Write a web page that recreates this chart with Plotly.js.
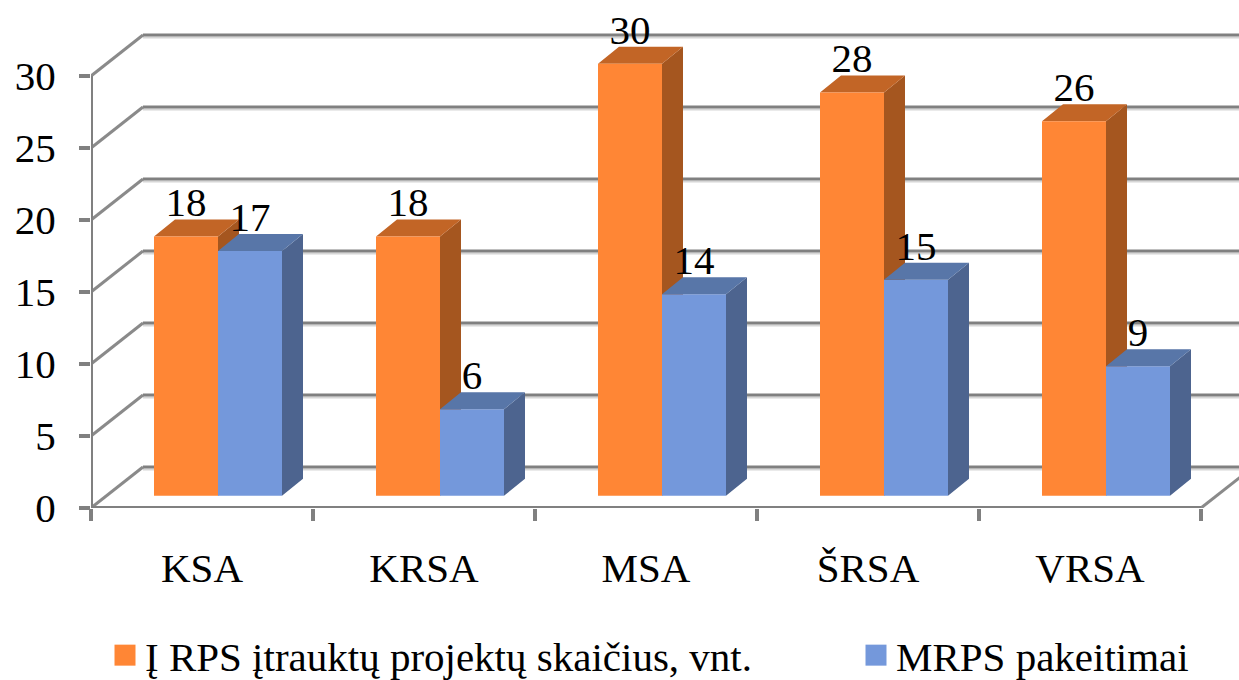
<!DOCTYPE html>
<html><head><meta charset="utf-8">
<script src="https://cdn.plot.ly/plotly-3.0.1.min.js"></script>
<style>html,body{margin:0;padding:0;background:#fff;overflow:hidden}</style>
</head><body><div id="chart" style="width:1239px;height:680px"></div>
<script>
const categories = ["KSA","KRSA","MSA","ŠRSA","VRSA"];
const projects = [18,18,30,28,26];
const changes = [17,6,14,15,9];
const seriesNames = ["Į RPS įtrauktų projektų skaičius, vnt.","MRPS pakeitimai"];
const yTicks = [0,5,10,15,20,25,30];

const W=1239,H=680,L=91,B=508,UX=222,UY=14.4;
const FONT='"Liberation Serif","Times New Roman",serif';
const GRID='#808080';
const wallDX=52/UX, wallDY=41/UY;
const barBase=0.85;
const barW=64/UX, barStart=63/UX;
const faceDX=21/UX, faceDY=17/UY;
const labelDrop=7/UY;
const xMax=(W-L)/UX, yMax=B/UY;

function poly(pts){const x=[],y=[];pts.forEach(p=>{p.forEach(q=>{x.push(q[0]);y.push(q[1]);});x.push(p[0][0],null);y.push(p[0][1],null);});return {x,y};}
function faces(vals,slot){
  const side=[],top=[];
  vals.forEach((v,i)=>{
    const x0=i+barStart+slot*barW,x1=x0+barW,b=barBase,t=barBase+v;
    side.push([[x1,b],[x1+faceDX,b+faceDY],[x1+faceDX,t+faceDY],[x1,t]]);
    top.push([[x0,t],[x0+faceDX,t+faceDY],[x1+faceDX,t+faceDY],[x1,t]]);
  });
  return {side:poly(side),top:poly(top)};
}
function fillTrace(p,color,ya){return {x:p.x,y:p.y,yaxis:ya,type:'scatter',mode:'lines',fill:'toself',fillcolor:color,line:{width:0,color:color},showlegend:false,hoverinfo:'skip'};}
function lineTrace(x,y,color,w,clip){return {x,y,type:'scatter',mode:'lines',line:{color,width:w},showlegend:false,hoverinfo:'skip',cliponaxis:clip};}

const gx=[],gy=[],gs=[],dx=[],dy=[];
yTicks.forEach(v=>{
  gx.push(wallDX,xMax,null);gy.push(v+wallDY,v+wallDY,null);
  gs.push(v+wallDY-0.17,v+wallDY-0.17,null);
  dx.push(0,wallDX,null);dy.push(v,v+wallDY,null);
});
dx.push(categories.length,categories.length+wallDX);dy.push(0,wallDY);

const fo=faces(projects,0), fb=faces(changes,1);
const labelFont={family:FONT,size:41,color:'#000'};
const traces=[
  lineTrace(gx,gs,'#d6d6d6',2,true),
  lineTrace(gx,gy,GRID,2.8,true),
  lineTrace(dx,dy,'#8a8a8a',3,true),
  lineTrace([0,0],[0,30],GRID,4,false),
  lineTrace([0,categories.length],[0,0],GRID,4,false),
  fillTrace(fo.side,'#A5561F','y'),
  fillTrace(fo.top,'#C26526','y'),
  {type:'bar',name:seriesNames[0],legend:'legend',x:categories.map((c,i)=>i+barStart+barW/2),y:projects,base:barBase,width:barW,yaxis:'y2',marker:{color:'#FF8635',line:{width:0}},hoverinfo:'skip'},
  {type:'bar',name:seriesNames[1],legend:'legend2',x:categories.map((c,i)=>i+barStart+barW*1.5),y:changes,base:barBase,width:barW,yaxis:'y2',marker:{color:'#7498DB',line:{width:0}},hoverinfo:'skip'},
  fillTrace(fb.side,'#4D648F','y3'),
  fillTrace(fb.top,'#5876A8','y3'),
  {type:'scatter',mode:'text',yaxis:'y3',x:categories.map((c,i)=>i+barStart+barW/2),y:projects.map(v=>v+barBase+faceDY-labelDrop),text:projects.map(String),textposition:'top center',textfont:labelFont,showlegend:false,hoverinfo:'skip',cliponaxis:false},
  {type:'scatter',mode:'text',yaxis:'y3',x:categories.map((c,i)=>i+barStart+barW*1.5),y:changes.map(v=>v+barBase+faceDY-labelDrop),text:changes.map(String),textposition:'top center',textfont:labelFont,showlegend:false,hoverinfo:'skip',cliponaxis:false}
];
const legendBase={orientation:'h',xanchor:'left',yanchor:'top',bgcolor:'rgba(0,0,0,0)',y:-(622-B)/B,
  font:{family:FONT,size:41,color:'#000'},itemclick:false,itemdoubleclick:false};
const layout={
  width:W,height:H,autosize:false,paper_bgcolor:'#fff',plot_bgcolor:'rgba(0,0,0,0)',
  margin:{l:L,r:0,t:0,b:H-B,pad:0,autoexpand:false},
  font:{family:FONT,size:41,color:'#000'},
  barmode:'overlay',
  xaxis:{range:[0,xMax],showgrid:false,zeroline:false,showline:false,tickmode:'array',
    tickvals:categories.map((c,i)=>i+0.5),ticktext:categories,ticks:'',ticklabelstandoff:32,tickfont:{family:FONT,size:41,color:'#000'},
    minor:{tickmode:'array',tickvals:categories.map((c,i)=>i).concat([categories.length]),ticks:'outside',ticklen:12,tickwidth:3.5,tickcolor:GRID,showgrid:false}},
  yaxis:{range:[0,yMax],showgrid:false,zeroline:false,showline:false,tickmode:'array',tickvals:yTicks,
    ticks:'outside',ticklen:11,tickwidth:3.5,tickcolor:GRID,tickfont:{family:FONT,size:41,color:'#000'},ticklabelstandoff:15},
  yaxis2:{range:[0,yMax],overlaying:'y',visible:false},
  yaxis3:{range:[0,yMax],overlaying:'y',visible:false},
  showlegend:true,
  legend:Object.assign({},legendBase,{x:(105-L)/(W-L)}),
  legend2:Object.assign({},legendBase,{x:(856-L)/(W-L)})
};
Plotly.newPlot('chart',traces,layout,{displayModeBar:false,staticPlot:true}).then(gd=>{
  gd.querySelectorAll('.legendpoints path').forEach(p=>{p.setAttribute('d','M10.5,10.5H-10.5V-10.5H10.5Z');});
});
</script></body></html>
